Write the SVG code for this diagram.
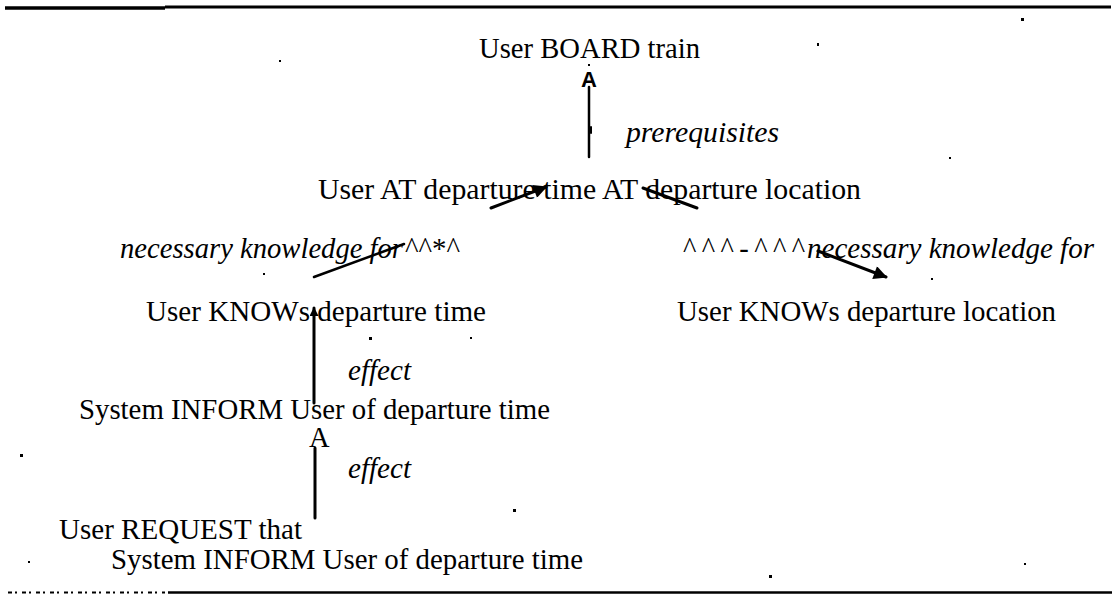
<svg xmlns="http://www.w3.org/2000/svg" width="1120" height="597" viewBox="0 0 1120 597">
<style>
  .t { font-family: "Liberation Serif", "Times New Roman", serif; font-size: 28.5px; fill: #000; }
  .i { font-family: "Liberation Serif", "Times New Roman", serif; font-size: 28.5px; font-style: italic; fill: #000; }
  .e { stroke: #000; fill: none; stroke-linecap: round; }
  .rule { stroke: #000; fill: none; }
  .speck { fill: #000; }
</style>
<defs>
  <marker id="ah" viewBox="0 0 10 10" refX="9" refY="5" markerWidth="5.5" markerHeight="4.5" orient="auto">
    <path d="M0,0 L10,5 L0,10 Z" fill="#000"/>
  </marker>
  <marker id="ahv" viewBox="0 0 10 10" refX="9" refY="5" markerWidth="5" markerHeight="3" orient="auto">
    <path d="M0,0 L10,5 L0,10 Z" fill="#000"/>
  </marker>
</defs>
<g id="rules">
  <line class="rule" x1="5" y1="8" x2="165" y2="8" stroke-width="3.5"/>
  <line class="rule" x1="165" y1="7" x2="1111" y2="7" stroke-width="3"/>
  <line class="rule" x1="168" y1="592.5" x2="1112" y2="592.5" stroke-width="2.5"/>
  <line class="rule" x1="8" y1="592.5" x2="165" y2="592.5" stroke-width="2" stroke-dasharray="4 3 2 5"/>
</g>
<g id="specks">
  <rect class="speck" x="1021" y="18" width="3" height="3"/>
  <rect class="speck" x="279" y="60" width="2" height="2"/>
  <rect class="speck" x="817" y="43" width="2" height="3"/>
  <rect class="speck" x="949" y="157" width="2" height="2"/>
  <rect class="speck" x="263" y="273" width="2" height="2"/>
  <rect class="speck" x="931" y="278" width="2" height="2"/>
  <rect class="speck" x="369" y="337" width="3" height="3"/>
  <rect class="speck" x="470" y="337" width="2" height="2"/>
  <rect class="speck" x="20" y="454" width="3" height="3"/>
  <rect class="speck" x="513" y="509" width="3" height="3"/>
  <rect class="speck" x="769" y="575" width="3" height="3"/>
  <rect class="speck" x="1024" y="563" width="2" height="2"/>
  <rect class="speck" x="28" y="561" width="2" height="2"/>
  <rect class="speck" x="588" y="64" width="2" height="2"/>
</g>
<g id="connectors">
  <line class="e" x1="589" y1="157" x2="589" y2="87" stroke-width="2.5"/>
  <line class="e" x1="591" y1="127" x2="591" y2="133" stroke-width="2"/>
  <line class="e" x1="491" y1="208" x2="546" y2="187" stroke-width="3" marker-end="url(#ah)"/>
  <line class="e" x1="643" y1="188" x2="697" y2="208" stroke-width="3"/>
  <line class="e" x1="314" y1="277" x2="404" y2="244" stroke-width="2.5"/>
  <line class="e" x1="818" y1="251" x2="886" y2="277" stroke-width="3" marker-end="url(#ah)"/>
  <line class="e" x1="314" y1="403" x2="314" y2="308" stroke-width="3" marker-end="url(#ahv)"/>
  <line class="e" x1="315" y1="518" x2="315" y2="448" stroke-width="3"/>
</g>
<g id="n-board">
  <text class="t" x="479" y="58" textLength="221" lengthAdjust="spacingAndGlyphs">User BOARD train</text>
  <text x="589" y="87" text-anchor="middle" font-family="Liberation Sans, Arial, sans-serif" font-weight="bold" font-size="22">A</text>
</g>
<g id="l-prereq">
  <text class="i" x="626" y="142" textLength="153" lengthAdjust="spacingAndGlyphs">prerequisites</text>
</g>
<g id="n-at">
  <text class="t" x="318" y="199" textLength="543" lengthAdjust="spacingAndGlyphs">User AT departure time AT departure location</text>
</g>
<g id="l-nk1">
  <text class="i" x="120" y="258" textLength="283" lengthAdjust="spacingAndGlyphs">necessary knowledge for</text>
  <text class="t" x="405" y="258" textLength="55" lengthAdjust="spacingAndGlyphs">^^*^</text>
</g>
<g id="l-nk2">
  <text class="t" x="683" y="258" textLength="122" lengthAdjust="spacing">^^^-^^^</text>
  <text class="i" x="807" y="258" textLength="287" lengthAdjust="spacingAndGlyphs">necessary knowledge for</text>
</g>
<g id="n-knows-time">
  <text class="t" x="146" y="321" textLength="340" lengthAdjust="spacingAndGlyphs">User KNOWs departure time</text>
</g>
<g id="n-knows-loc">
  <text class="t" x="677" y="321" textLength="379" lengthAdjust="spacingAndGlyphs">User KNOWs departure location</text>
</g>
<g id="l-effect1">
  <text class="i" x="348" y="380" textLength="63" lengthAdjust="spacingAndGlyphs">effect</text>
</g>
<g id="n-inform">
  <text class="t" x="79" y="419" textLength="471" lengthAdjust="spacingAndGlyphs">System INFORM User of departure time</text>
  <text class="t" x="309" y="447">A</text>
</g>
<g id="l-effect2">
  <text class="i" x="348" y="478" textLength="63" lengthAdjust="spacingAndGlyphs">effect</text>
</g>
<g id="n-request">
  <text class="t" x="59" y="539" textLength="243" lengthAdjust="spacingAndGlyphs">User REQUEST that</text>
  <text class="t" x="111" y="569" textLength="472" lengthAdjust="spacingAndGlyphs">System INFORM User of departure time</text>
</g>
</svg>
